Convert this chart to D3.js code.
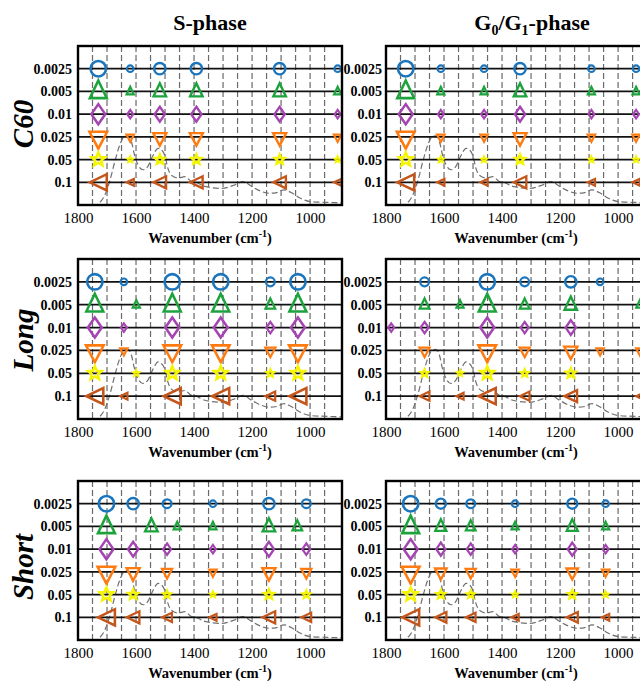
<!DOCTYPE html>
<html>
<head>
<meta charset="utf-8">
<script src="https://cdn.jsdelivr.net/npm/d3@7"></script>
<style>
  body { margin: 0; background: #fff; }
  text { font-family: "Liberation Serif", "Times New Roman", serif; }
</style>
</head>
<body>
<svg id="chart" width="640" height="682"></svg>
<script>
// ---- data ----------------------------------------------------------------
const concentrations = ["0.0025", "0.005", "0.01", "0.025", "0.05", "0.1"];
const phases = ["S-phase", "G0/G1-phase"];
const groups = ["C60", "Long", "Short"];
const xTicks = [1800, 1600, 1400, 1200, 1000];
const gridLines = [1750, 1700, 1650, 1600, 1550, 1500, 1450, 1400, 1350, 1300,
                   1250, 1200, 1150, 1100, 1050, 1000, 950];

// reference absorbance spectrum (wavenumber, normalised absorbance)
const spectrumWn = [1750, 1730, 1720, 1708, 1691, 1673, 1656, 1640, 1628, 1616,
                    1605, 1593, 1576, 1559, 1541, 1524, 1513, 1501, 1490, 1478,
                    1455, 1432, 1409, 1395, 1363, 1306, 1260, 1231, 1202, 1170,
                    1140, 1115, 1090, 1065, 1035, 1000, 960, 920, 880];
const spectrumAbs = [-0.03, 0.02, 0.06, 0.14, 0.34, 0.63, 0.87, 0.99, 1.0, 0.92,
                     0.72, 0.58, 0.51, 0.56, 0.72, 0.82, 0.8, 0.72, 0.53, 0.43,
                     0.39, 0.41, 0.34, 0.33, 0.27, 0.24, 0.29, 0.34, 0.27, 0.2,
                     0.17, 0.18, 0.22, 0.18, 0.1, 0.05, 0.04, 0.035, 0.03];

// selected bands per panel: [wavenumber, weight, rows present (one flag per concentration)]
const c60S   = [[1730, 4, "111111"], [1620, 1, "111111"], [1518, 3, "111111"],
                [1392, 3, "111111"], [1105, 3, "111111"], [905, 1, "111111"]];
const c60G   = [[1732, 4, "111111"], [1611, 1, "111111"], [1462, 1, "111111"],
                [1338, 3, "111111"], [1092, 1, "111111"], [938, 1, "111111"]];
const longS  = [[1742, 4, "111111"], [1642, 1, "101101"], [1599, 1, "010010"],
                [1475, 4, "111111"], [1308, 4, "111111"], [1137, 2, "111111"],
                [1042, 4, "111111"]];
const longG  = [[1782, 1, "001000"], [1667, 2, "111111"], [1545, 1, "010011"],
                [1451, 4, "111111"], [1322, 2, "111111"], [1163, 3, "111111"],
                [1062, 1, "100100"], [925, 1, "010101"]];
const shortS = [[1702, 4, "111111"], [1610, 3, "101111"], [1547, 3, "010000"],
                [1493, 2, "101111"], [1458, 1, "010000"], [1335, 1, "111111"],
                [1142, 3, "111111"], [1044, 2, "010000"], [1013, 2, "101111"]];
const shortG = [[1715, 4, "111111"], [1611, 2.5, "111111"], [1508, 2, "111111"],
                [1355, 1, "111111"], [1158, 2.5, "111111"], [1043, 1, "111111"]];

const panelData = [[c60S, c60G], [longS, longG], [shortS, shortG]];

// ---- layout --------------------------------------------------------------
const colX = [[78, 342], [386, 650]];
const rowY = [[46, 205], [259, 419], [481, 640]];
const groupLabelY = [124, 340, 567];
const titleX = [210, 532];

const colors = ["#1a75bc", "#1ca33c", "#a445b2", "#ff7b10", "#f5f500", "#c4561c"];
const radius = d3.scaleLinear().domain([1, 2, 3, 4]).range([3.3, 4.4, 5.7, 7.7]);

// one outline shape per concentration
function shapePath(i, r) {
  const p = d3.path();
  const poly = pts => { p.moveTo(pts[0][0], pts[0][1]); pts.slice(1).forEach(q => p.lineTo(q[0], q[1])); p.closePath(); };
  if (i === 0) { p.moveTo(r, 0); p.arc(0, 0, r, 0, 2 * Math.PI); }
  else if (i === 1) { const w = 2.2 * r, h = 2.3 * r; poly([[0, -0.62 * h], [w / 2, 0.38 * h], [-w / 2, 0.38 * h]]); }
  else if (i === 2) { poly([[0, -1.3 * r], [0.9 * r, 0], [0, 1.3 * r], [-0.9 * r, 0]]); }
  else if (i === 3) { const w = 2.3 * r, h = 2.2 * r; poly([[-w / 2, -0.3 * h], [w / 2, -0.3 * h], [0, 0.7 * h]]); }
  else if (i === 4) {
    const R = 0.92 * r, ri = 0.45 * R, pts = [];
    for (let k = 0; k < 10; k++) {
      const a = -Math.PI / 2 + k * Math.PI / 5, rr = k % 2 ? ri : R;
      pts.push([rr * Math.cos(a), rr * Math.sin(a)]);
    }
    poly(pts);
  }
  else { const w = 2.2 * r, h = 2.1 * r; poly([[-w / 2, 0], [w / 2, -h / 2], [w / 2, h / 2]]); }
  return p.toString();
}

const svg = d3.select("#chart");

// column titles
svg.append("text").attr("x", titleX[0]).attr("y", 30).attr("text-anchor", "middle")
  .style("font-size", "22px").style("font-weight", "bold").text(phases[0]);
const g0 = svg.append("text").attr("x", titleX[1]).attr("y", 30).attr("text-anchor", "middle")
  .style("font-size", "22px").style("font-weight", "bold");
g0.append("tspan").text("G");
g0.append("tspan").style("font-size", "14px").attr("dy", 5).text("0");
g0.append("tspan").attr("dy", -5).text("/G");
g0.append("tspan").style("font-size", "14px").attr("dy", 5).text("1");
g0.append("tspan").attr("dy", -5).text("-phase");

rowY.forEach((ry, r) => {
  // group label
  svg.append("text")
    .attr("transform", `translate(33,${groupLabelY[r]}) rotate(-90)`)
    .attr("text-anchor", "middle").style("font-size", "29px")
    .style("font-weight", "bold").style("font-style", "italic")
    .text(groups[r]);

  colX.forEach((cx, c) => {
    const x = d3.scaleLinear().domain([1800, 890]).range(cx);
    const y = d3.scalePoint().domain(concentrations).range(ry).padding(1);
    const ys = d3.scaleLinear().domain([0, 2.3]).range([ry[1], ry[0]]);
    const g = svg.append("g");
    const clipId = `clip-${r}-${c}`;
    g.append("clipPath").attr("id", clipId).append("rect")
      .attr("x", cx[0]).attr("y", ry[0]).attr("width", cx[1] - cx[0]).attr("height", ry[1] - ry[0]);

    // dashed vertical grid
    g.append("g").selectAll("line").data(gridLines).join("line")
      .attr("x1", d => x(d)).attr("x2", d => x(d))
      .attr("y1", ry[0]).attr("y2", ry[1])
      .attr("stroke", "#6a6a6a").attr("stroke-width", 1.2).attr("stroke-dasharray", "6,3");

    // spectrum
    const line = d3.line().x(d => x(d[0])).y(d => ys(d[1])).curve(d3.curveMonotoneX);
    g.append("path").datum(spectrumWn.map((w, i) => [w, spectrumAbs[i]]))
      .attr("clip-path", `url(#${clipId})`)
      .attr("d", line).attr("fill", "none").attr("stroke", "#707070")
      .attr("stroke-width", 1.2).attr("stroke-dasharray", "6,3");

    // concentration lines
    g.append("g").selectAll("line").data(concentrations).join("line")
      .attr("x1", cx[0]).attr("x2", cx[1])
      .attr("y1", d => y(d)).attr("y2", d => y(d))
      .attr("stroke", "#111").attr("stroke-width", 1.8);

    // markers
    const marks = [];
    panelData[r][c].forEach(([wn, w, rows]) => {
      concentrations.forEach((conc, i) => { if (rows[i] === "1") marks.push({ wn, w, conc, i }); });
    });
    g.append("g").selectAll("path").data(marks).join("path")
      .attr("transform", d => `translate(${x(d.wn)},${y(d.conc)})`)
      .attr("d", d => shapePath(d.i, radius(d.w)))
      .attr("fill", "none").attr("stroke", d => colors[d.i])
      .attr("stroke-width", d => 1.8 + 0.1 * radius(d.w))
      .attr("stroke-linejoin", "miter");

    // frame
    g.append("rect").attr("x", cx[0]).attr("y", ry[0])
      .attr("width", cx[1] - cx[0]).attr("height", ry[1] - ry[0])
      .attr("fill", "none").attr("stroke", "#000").attr("stroke-width", 2.4);

    // axes
    const yAxis = g.append("g").attr("transform", `translate(${cx[0]},0)`)
      .call(d3.axisLeft(y).tickSize(0).tickPadding(c === 0 ? 6 : 4));
    yAxis.select(".domain").remove();
    yAxis.selectAll("text").style("font-size", "14px").style("font-weight", "bold")
      .attr("fill", "#000");

    const xAxis = g.append("g").attr("transform", `translate(0,${ry[1]})`)
      .call(d3.axisBottom(x).tickValues(xTicks).tickFormat(d3.format("d"))
        .tickSize(0).tickPadding(7));
    xAxis.select(".domain").remove();
    xAxis.selectAll("text").style("font-size", "15px").attr("fill", "#000");

    const t = g.append("text").attr("x", (cx[0] + cx[1]) / 2 - (c === 1 ? 2 : 0)).attr("y", ry[1] + 38)
      .attr("text-anchor", "middle").style("font-size", "14.5px").style("font-weight", "bold");
    t.append("tspan").text("Wavenumber (cm");
    t.append("tspan").style("font-size", "10px").attr("dy", -6).text("-1");
    t.append("tspan").attr("dy", 6).text(")");
  });
});
</script>
</body>
</html>
